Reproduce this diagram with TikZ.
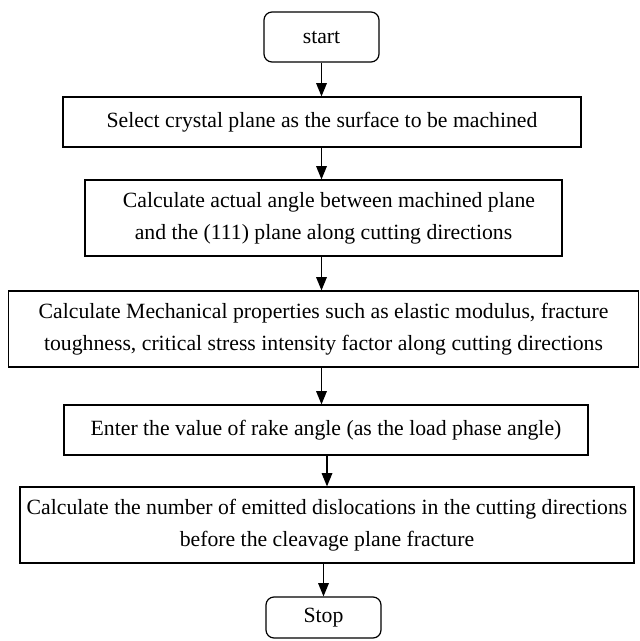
\documentclass[tikz,border=0pt]{standalone}
\usepackage{fontspec}
\setmainfont{Liberation Serif}
\usetikzlibrary{arrows.meta}

\begin{document}
\begin{tikzpicture}[x=0.75pt,y=-0.75pt]
\tikzstyle{block} = [rectangle, draw, line width=0.9pt, rounded corners=6pt,
inner sep=0pt, align=center, font=\fontsize{16.3}{24}\selectfont]
\tikzstyle{block_op} = [rectangle, draw, line width=0.9pt,
inner sep=0pt, align=center, font=\fontsize{16.3}{24}\selectfont]
\tikzstyle{line} = [draw, line width=0.9pt, -{Triangle[length=10pt,width=8pt]}];
\useasboundingbox (0,0) rectangle (639,641);
% row 1
\node [block, minimum width=86.25pt, minimum height=37.5pt] (start) at (321.5,37) {start};
% row 2
\node [block_op, minimum width=388.5pt, minimum height=37.5pt] (select) at (322,122)
{Select crystal plane as the surface to be machined};
% row 3
\node [block_op, minimum width=357.75pt, minimum height=57pt] (angle) at (323.5,218)
{\ \ Calculate actual angle between machined plane\\
and the (111) plane along cutting directions};
% row 4
\node [block_op, minimum width=472.5pt, minimum height=57pt] (props) at (323.5,329)
{Calculate Mechanical properties such as elastic modulus, fracture\\
toughness, critical stress intensity factor along cutting directions};
% row 5
\node [block_op, minimum width=393pt, minimum height=37.5pt] (rake) at (326,430)
{Enter the value of rake angle (as the load phase angle)};
% row 6
\node [block_op, minimum width=460.5pt, minimum height=57pt] (disloc) at (327,525)
{Calculate the number of emitted dislocations in the cutting directions\\
before the cleavage plane fracture};
% row 7
\node [block, minimum width=86.25pt, minimum height=30.75pt] (stop) at (323.5,617.5) {Stop};

\tikzstyle{every path}=[line]
\path (start.south) -- (start.south |- select.north);
\path (start.south |- select.south) -- (start.south |- angle.north);
\path (start.south |- angle.south) -- (start.south |- props.north);
\path (start.south |- props.south) -- (start.south |- rake.north);
\path (disloc.north |- rake.south) -- (disloc.north);
\path (stop.north |- disloc.south) -- (stop.north);
\end{tikzpicture}
\end{document}
